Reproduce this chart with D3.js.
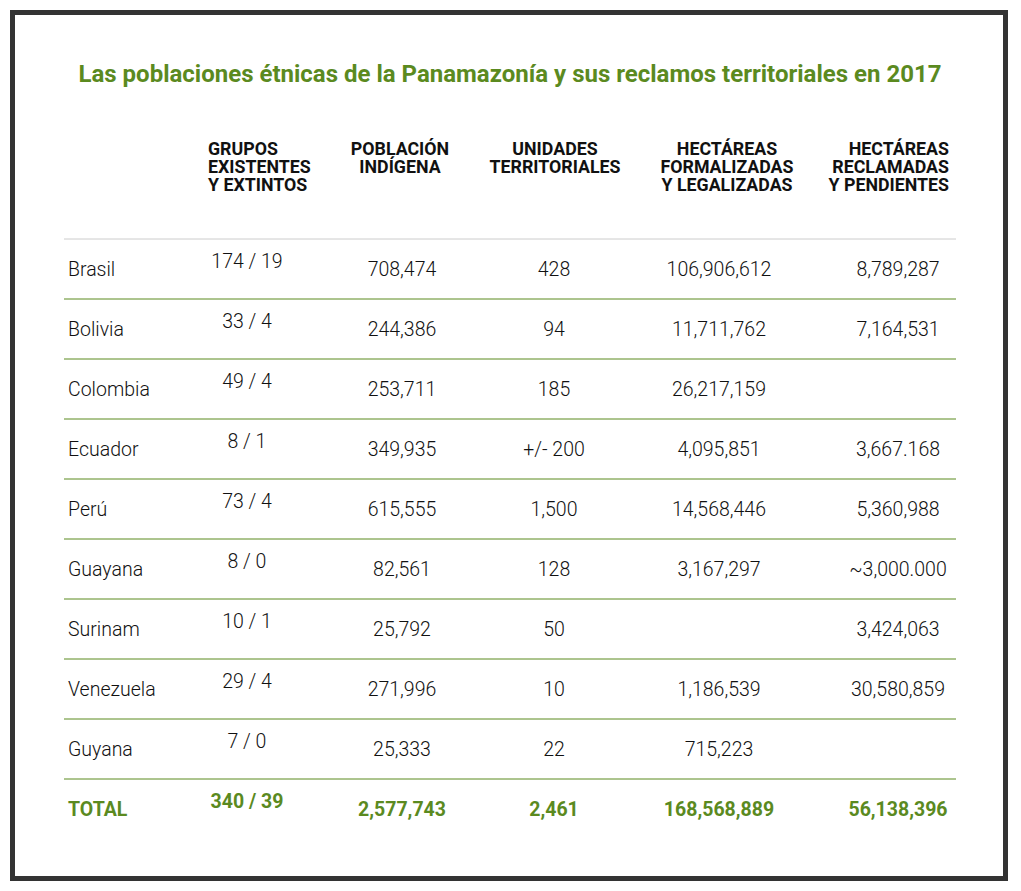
<!DOCTYPE html>
<html><head><meta charset="utf-8">
<script src="https://cdn.jsdelivr.net/npm/d3@7"></script>
<style>body{margin:0;background:#fff}svg{font-family:Roboto,sans-serif}</style>
</head><body><svg id="chart" width="1021" height="891"></svg>
<script>
const countries = ["Brasil","Bolivia","Colombia","Ecuador","Perú","Guayana","Surinam","Venezuela","Guyana"];
const grupos = ["174 / 19","33 / 4","49 / 4","8 / 1","73 / 4","8 / 0","10 / 1","29 / 4","7 / 0"];
const poblacion = ["708,474","244,386","253,711","349,935","615,555","82,561","25,792","271,996","25,333"];
const unidades = ["428","94","185","+/- 200","1,500","128","50","10","22"];
const formalizadas = ["106,906,612","11,711,762","26,217,159","4,095,851","14,568,446","3,167,297","","1,186,539","715,223"];
const reclamadas = ["8,789,287","7,164,531","","3,667.168","5,360,988","~3,000.000","3,424,063","30,580,859",""];
const totals = ["340 / 39","2,577,743","2,461","168,568,889","56,138,396"];
const headers = [
  ["GRUPOS","EXISTENTES","Y EXTINTOS"],
  ["POBLACIÓN","INDÍGENA"],
  ["UNIDADES","TERRITORIALES"],
  ["HECTÁREAS","FORMALIZADAS","Y LEGALIZADAS"],
  ["HECTÁREAS","RECLAMADAS","Y PENDIENTES"]
];
const green = "#5b8a1f";
const svg = d3.select("#chart");

svg.append("rect").attr("x",12.5).attr("y",12.5).attr("width",993).attr("height",866)
  .attr("fill","#fff").attr("stroke","#333").attr("stroke-width",5);

svg.append("text").attr("x",510).attr("y",82).attr("text-anchor","middle")
  .attr("font-size",24).attr("font-weight","bold").attr("fill",green)
  .text("Las poblaciones étnicas de la Panamazonía y sus reclamos territoriales en 2017");

// header columns: x, anchor
const hcols = [[208,"start"],[400,"middle"],[555,"middle"],[727,"middle"],[949,"end"]];
headers.forEach((lines,i) => {
  const t = svg.append("text").attr("x",hcols[i][0]).attr("y",155)
    .attr("text-anchor",hcols[i][1]).attr("font-size",17.8).attr("font-weight","bold").attr("fill","#111");
  lines.forEach((l,j) => t.append("tspan").attr("x",hcols[i][0]).attr("dy",j?18:0).text(l));
});

const rowNames = countries.concat(["TOTAL"]);
const y = d3.scaleBand().domain(rowNames).range([239,839]);

svg.append("line").attr("x1",64).attr("x2",956).attr("y1",y("Brasil")).attr("y2",y("Brasil"))
  .attr("stroke","#ccc");
svg.selectAll("line.sep").data(rowNames.slice(1)).enter().append("line").attr("class","sep")
  .attr("x1",64).attr("x2",956).attr("y1",d=>y(d)).attr("y2",d=>y(d)).attr("stroke",green);

const vcols = [247,402,554,719,898];
const rows = countries.map((c,i) => ({name:c, vals:[grupos[i],poblacion[i],unidades[i],formalizadas[i],reclamadas[i]], total:false}));
rows.push({name:"TOTAL", vals:totals, total:true});

const g = svg.selectAll("g.row").data(rows).enter().append("g")
  .attr("transform",d=>`translate(0,${y(d.name)+y.bandwidth()/2})`)
  .attr("font-size",d=>d.total?19.5:19.5).attr("fill",d=>d.total?green:"#111").attr("font-weight",d=>d.total?"bold":"300");
g.append("text").attr("x",68).attr("y",7).text(d=>d.name);
vcols.forEach((x,i) => {
  g.append("text").attr("x",x).attr("y",i===0?-1:7).attr("text-anchor","middle").text(d=>d.vals[i]);
});
</script></body></html>
